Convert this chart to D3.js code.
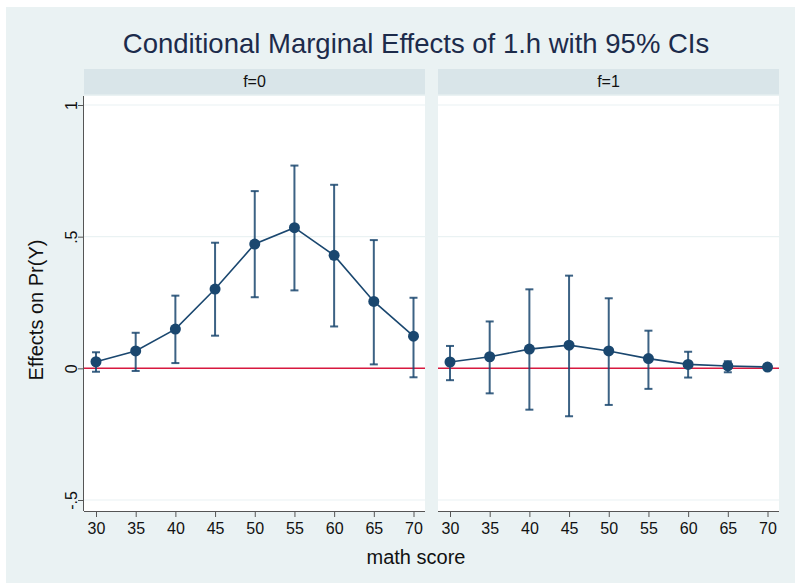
<!DOCTYPE html>
<html><head><meta charset="utf-8">
<script src="https://cdn.jsdelivr.net/npm/d3@7"></script>
<style>body{margin:0;background:#fff}svg{display:block}text{font-family:"Liberation Sans",Arial,Helvetica,sans-serif}</style>
</head><body>
<script>
const mathScores = [30, 35, 40, 45, 50, 55, 60, 65, 70];
const panels = ["f=0", "f=1"];
const f0Effect = [0.025, 0.066, 0.149, 0.301, 0.472, 0.534, 0.429, 0.254, 0.122];
const f0Upper  = [0.061, 0.135, 0.276, 0.477, 0.673, 0.770, 0.697, 0.487, 0.268];
const f0Lower  = [-0.013, -0.010, 0.020, 0.124, 0.270, 0.296, 0.159, 0.015, -0.034];
const f1Effect = [0.024, 0.044, 0.073, 0.088, 0.066, 0.037, 0.015, 0.009, 0.005];
const f1Upper  = [0.085, 0.178, 0.300, 0.352, 0.266, 0.143, 0.063, 0.027, 0.007];
const f1Lower  = [-0.045, -0.095, -0.157, -0.182, -0.139, -0.078, -0.035, -0.015, 0.003];
const yTicks = [-0.5, 0, 0.5, 1];
const yTickLabels = ["-.5", "0", ".5", "1"];
const titleText = "Conditional Marginal Effects of 1.h with 95% CIs";
const xTitle = "math score";
const yTitle = "Effects on Pr(Y)";

const W = 795, H = 583;
const svg = d3.select("body").append("svg").attr("width", W).attr("height", H);
svg.append("rect").attr("x", 6).attr("y", 7).attr("width", W - 6).attr("height", H - 7).attr("fill", "#eaf2f3");

const plotTop = 96, plotBottom = 511;
const panelX = [84, 438], panelW = 341;
const y = d3.scaleLinear().domain([-0.5, 1]).range([500, 105]);

const series = [
  {eff: f0Effect, up: f0Upper, lo: f0Lower},
  {eff: f1Effect, up: f1Upper, lo: f1Lower}
];
const navy = "#1a476f";

// title
svg.append("text").attr("x", 416).attr("y", 53).attr("text-anchor", "middle")
  .attr("font-size", 27.5).attr("fill", "#1c2b4b").text(titleText);

panels.forEach((p, i) => {
  const x0 = panelX[i];
  const x = d3.scaleLinear().domain([30, 70]).range([x0 + 12, x0 + 329.5]);
  // header
  svg.append("rect").attr("x", x0).attr("y", 69).attr("width", panelW).attr("height", 25.5).attr("fill", "#d9e5e9");
  svg.append("text").attr("x", x0 + panelW / 2).attr("y", 87).attr("text-anchor", "middle")
    .attr("font-size", 16).attr("fill", "#111").text(p);
  // plot area
  svg.append("rect").attr("x", x0).attr("y", plotTop).attr("width", panelW).attr("height", plotBottom - plotTop).attr("fill", "#fff");
  // gridlines
  svg.append("g").selectAll("line").data(yTicks.filter(t => t !== 0)).join("line")
    .attr("x1", x0).attr("x2", x0 + panelW).attr("y1", d => y(d)).attr("y2", d => y(d))
    .attr("stroke", "#eaf2f3").attr("stroke-width", 1.2);
  // zero line
  svg.append("line").attr("x1", x0).attr("x2", x0 + panelW).attr("y1", y(0)).attr("y2", y(0))
    .attr("stroke", "#d7193f").attr("stroke-width", 1.5);
  // x axis
  const xa = svg.append("g").attr("transform", `translate(0,${plotBottom})`)
    .call(d3.axisBottom(x).tickValues(mathScores).tickSize(6).tickPadding(6).tickSizeOuter(0));
  xa.select(".domain").attr("d", `M${x0},0.5H${x0 + panelW}`).attr("stroke", "#555");
  xa.selectAll(".tick line").attr("stroke", "#555");
  xa.selectAll(".tick text").attr("font-size", 16).attr("fill", "#111").attr("font-family", "Liberation Sans, Arial, sans-serif");
  // y axis on first panel
  if (i === 0) {
    const ya = svg.append("g").attr("transform", `translate(${x0},0)`)
      .call(d3.axisLeft(y).tickValues(yTicks).tickSize(6).tickSizeOuter(0).tickFormat((d, k) => yTickLabels[k]));
    ya.select(".domain").attr("d", `M-0.5,${plotTop}V${plotBottom}`).attr("stroke", "#555");
    ya.selectAll(".tick line").attr("stroke", "#555");
    ya.selectAll(".tick text").attr("font-size", 16).attr("fill", "#111")
      .attr("font-family", "Liberation Sans, Arial, sans-serif")
      .attr("x", null).attr("dy", null).attr("text-anchor", "middle")
      .attr("transform", "translate(-7,0) rotate(-90)");
  }
  const s = series[i];
  const g = svg.append("g");
  // error bars
  const cap = 4;
  mathScores.forEach((m, k) => {
    g.append("line").attr("x1", x(m)).attr("x2", x(m)).attr("y1", y(s.up[k])).attr("y2", y(s.lo[k]))
      .attr("stroke", navy).attr("stroke-opacity", 0.85).attr("stroke-width", 2);
    [s.up[k], s.lo[k]].forEach(v => g.append("line").attr("x1", x(m) - cap).attr("x2", x(m) + cap)
      .attr("y1", y(v)).attr("y2", y(v)).attr("stroke", navy).attr("stroke-opacity", 0.85).attr("stroke-width", 2));
  });
  // connecting line
  g.append("path").datum(mathScores.map((m, k) => [m, s.eff[k]]))
    .attr("d", d3.line().x(d => x(d[0])).y(d => y(d[1])))
    .attr("fill", "none").attr("stroke", navy).attr("stroke-width", 1.6);
  g.selectAll("circle").data(mathScores).join("circle")
    .attr("cx", d => x(d)).attr("cy", (d, k) => y(s.eff[k])).attr("r", 5.5).attr("fill", navy);
});

// axis titles
svg.append("text").attr("x", 416).attr("y", 564).attr("text-anchor", "middle")
  .attr("font-size", 20).attr("fill", "#111").text(xTitle);
svg.append("text").attr("transform", "translate(43,310) rotate(-90)").attr("text-anchor", "middle")
  .attr("font-size", 20).attr("fill", "#111").text(yTitle);
</script>
</body></html>
